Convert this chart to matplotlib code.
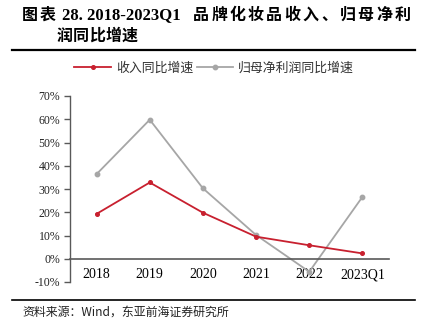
import matplotlib
matplotlib.use("Agg")
import matplotlib.pyplot as plt
from matplotlib.lines import Line2D

plt.rcParams['font.family'] = ['Liberation Serif', 'Noto Sans CJK SC', 'DejaVu Sans']

categories = ["2018", "2019", "2020", "2021", "2022", "2023Q1"]
revenue_growth = [19.3, 32.8, 19.8, 9.5, 5.8, 2.3]
profit_growth = [36.4, 59.8, 30.3, 10.2, -5.6, 26.6]
series_names = ["收入同比增速", "归母净利润同比增速"]
yticks = [-10, 0, 10, 20, 30, 40, 50, 60, 70]
title_num = "28. 2018-2023Q1"
title_cn1 = "品牌化妆品收入、归母净利"
title_cn2 = "润同比增速"
source = "资料来源：Wind，东亚前海证券研究所"

W, H = 426, 322
fig = plt.figure(figsize=(W / 100, H / 100), dpi=100)
ax = fig.add_axes([70 / W, 1 - 282 / H, (389 - 70) / W, (282 - 96) / H])

x = list(range(len(categories)))
red = "#C8202F"
gray = "#A6A6A6"
ax.plot(x, revenue_growth, color=red, lw=1.3, marker="o", ms=2.6, label=series_names[0], zorder=3)
ax.plot(x, profit_growth, color=gray, lw=1.3, marker="o", ms=3.2, label=series_names[1], zorder=2)

ax.set_xlim(-0.5, len(categories) - 0.5)
ax.set_ylim(-10, 70)
ax.set_yticks(yticks)
ax.set_yticklabels([f"{v}%" for v in yticks], fontsize=8.5, color="#222222")
ax.set_xticks(x)
ax.set_xticklabels(categories, fontsize=8.5, color="#222222")

for s in ["top", "right"]:
    ax.spines[s].set_visible(False)
ax.spines["bottom"].set_position(("data", 0))
ax.spines["bottom"].set_color("#595959")
ax.spines["bottom"].set_linewidth(1.2)
ax.spines["left"].set_color("#595959")
ax.spines["left"].set_linewidth(1.0)
ax.tick_params(axis="x", length=0, pad=7)
ax.tick_params(axis="y", length=4, width=1.0, color="#595959", pad=3, direction="out")

leg = fig.legend(loc="center", bbox_to_anchor=(0.503, 1 - 68 / H), ncol=2, frameon=False,
                 prop={"family": ["Noto Sans CJK SC"], "size": 9.3}, handlelength=2.8,
                 columnspacing=0.3, handletextpad=0.4)
for t in leg.get_texts():
    t.set_color("#333333")

# Title
def spaced(text, x0, y, step, size):
    for i, ch in enumerate(text):
        fig.text((x0 + i * step) / W, 1 - y / H, ch, fontsize=size, fontweight="bold",
                 va="center", ha="left", family=["Noto Sans CJK SC"])

spaced("图表", 22, 15, 17.5, 11.5)
fig.text(62 / W, 1 - 15 / H, title_num, fontsize=12, fontweight="bold",
         va="center", family=["Liberation Serif"])
spaced(title_cn1, 193, 15, 18.3, 11.5)
spaced(title_cn2, 57, 36, 16.2, 11.5)

fig.add_artist(Line2D([12 / W, 415 / W], [1 - 50 / H, 1 - 50 / H], color="black", lw=1.6))
fig.add_artist(Line2D([12 / W, 415 / W], [1 - 300 / H, 1 - 300 / H], color="black", lw=1.2))

fig.text(22 / W, 1 - 312 / H, source, fontsize=8.6, va="center",
         family=["Noto Sans CJK SC", "Liberation Serif"], color="#222222")

fig.savefig("out.png", dpi=100)
